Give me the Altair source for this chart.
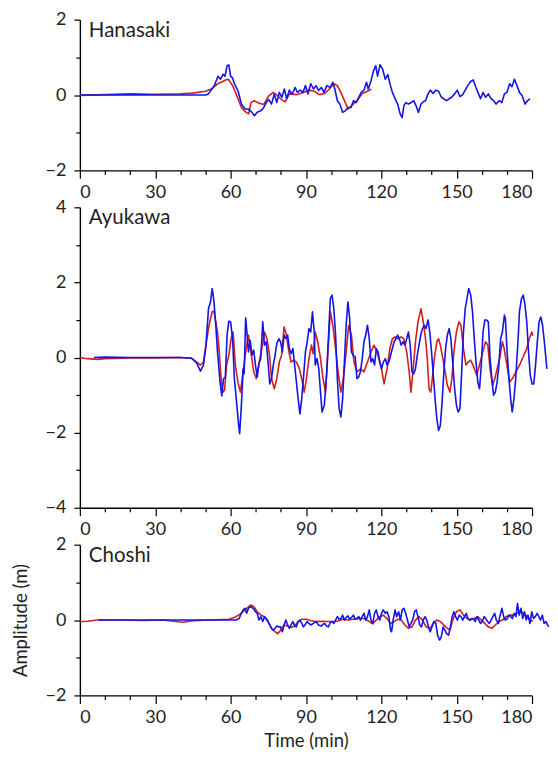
import altair as alt
import pandas as pd

# ---- data (time in minutes, amplitude in metres) ----
hanasaki_blue = [(0,0),(10,0),(20,0.01),(30,0),(40,0),(50,0),(51,0.02),(52.3,0.13),(53.5,0.25),(55,0.5),(56,0.42),(57,0.55),(57.8,0.5),(58.6,0.78),(59.3,0.8),(60,0.5),(60.8,0.45),(61.5,0.3),(63,0.1),(64.3,-0.24),(65.7,-0.37),(67,-0.37),(68.5,-0.46),(69.5,-0.55),(70.6,-0.46),(72,-0.42),(73.2,-0.33),(74.2,-0.2),(75.2,-0.12),(76.3,-0.24),(77.4,0.03),(78.4,-0.2),(79.4,0.07),(80.4,-0.06),(81.4,0.16),(82.3,-0.1),(83.4,0.13),(84.5,0.02),(85.7,0.2),(86.6,0.07),(87.7,0.13),(88.8,0.07),(89.8,0.25),(90.8,0.03),(91.9,0.3),(93,0.16),(94,0.25),(95,0.12),(96.1,0.2),(97.2,0.07),(98.3,0.25),(99.7,0.2),(100.7,0.34),(101.5,0.16),(102.5,-0.15),(103.5,-0.24),(104.6,-0.46),(105.7,-0.42),(106.8,-0.33),(107.9,-0.33),(108.9,-0.15),(110,-0.2),(111,-0.06),(112,0.07),(113.1,0.13),(114.1,0.34),(114.8,0.16),(115.9,0.38),(116.9,0.64),(117.8,0.78),(118.5,0.5),(119.5,0.8),(120.5,0.69),(121.6,0.42),(122.6,0.54),(123.4,0.31),(124.4,0.07),(125.5,-0.1),(126.5,-0.24),(127.5,-0.5),(128.3,-0.6),(129,-0.28),(129.8,-0.2),(130.8,-0.24),(131.9,-0.2),(132.9,-0.15),(133.8,-0.28),(134.8,-0.46),(135.8,-0.24),(136.7,-0.18),(137.6,-0.15),(138.6,0.03),(139.5,0.13),(140.6,0.04),(141.7,0.13),(142.8,0.1),(143.9,-0.06),(144.9,-0.1),(146,-0.15),(147,-0.1),(148,-0.06),(149.2,0.03),(150.2,0.13),(151.3,-0.04),(152.4,0.01),(153.4,0.13),(154.4,0.25),(155.6,0.36),(156.6,0.4),(157.7,0.2),(158.7,0.03),(159.5,-0.1),(160.5,0.07),(161.5,-0.06),(162.6,0.03),(163.6,-0.09),(164.7,-0.15),(165.7,-0.24),(166.9,-0.15),(168,-0.2),(169,0.03),(170,0.07),(171.1,0.3),(172,0.22),(173,0.42),(174,0.25),(175,0.07),(176.1,-0.02),(177.2,-0.24),(178.2,-0.15),(179.2,-0.1)]
hanasaki_red = [(0,-0.01),(10,0.01),(20,0.03),(30,0.02),(40,0.03),(45,0.05),(50,0.1),(52.3,0.16),(55,0.3),(58,0.4),(59.1,0.42),(60.8,0.25),(62.5,-0.02),(64.3,-0.33),(66.2,-0.46),(67.2,-0.5),(68.1,-0.2),(69.3,-0.15),(71.4,-0.22),(73.2,-0.25),(75.2,-0.02),(77,0.07),(78.4,0),(79.9,-0.1),(81.7,-0.18),(83.4,0.03),(86.2,0.01),(89,0.07),(91.2,0.13),(93.3,0.1),(95.4,0.01),(97.5,0.04),(99.3,0.16),(101.1,0.3),(102.5,0.25),(103.9,0.07),(105.3,-0.15),(106.8,-0.37),(108.2,-0.28),(110.3,-0.15),(112.4,0.04),(114.5,0.1),(116,0.16)]

ayukawa_blue = [(5.6,0),(10,0.01),(20,0),(30,0),(40,0),(44.5,-0.02),(46.6,-0.16),(48,-0.36),(49.2,-0.2),(50.2,0.33),(51.2,1.3),(52,1.48),(52.7,1.84),(53.4,1.48),(54.1,0.86),(54.8,0.15),(55.8,-0.65),(56.5,-1.02),(57.2,-0.56),(57.9,-0.52),(58.6,0.6),(59.3,0.97),(60,0.95),(60.8,0.5),(61.5,-0.56),(62.5,-1.27),(63.2,-1.8),(63.6,-2.03),(64.3,-1.27),(65,-0.3),(65.4,-0.43),(66,1.06),(66.7,0.5),(67.1,0.15),(67.8,0.46),(68.5,0.06),(69.2,0.2),(69.9,-0.2),(70.6,-0.52),(71.3,-0.16),(72,-0.03),(72.8,0.95),(73.5,0.33),(74.2,0.42),(74.9,-0.12),(75.6,-0.7),(76.3,-0.56),(77,-0.2),(77.7,0.06),(78.4,0.37),(79.2,0.5),(79.9,0.42),(80.6,0.15),(81.3,0.6),(82,0.5),(82.7,0.6),(83.4,0.24),(84.1,0.1),(84.8,0.24),(85.5,-0.2),(86.2,-0.65),(86.9,-1.1),(87.6,-1.5),(88.3,-1.1),(89,-0.56),(89.8,0.15),(90.5,0.42),(91.2,0.77),(91.9,0.68),(92.6,1.22),(93.3,0.68),(93.7,-0.2),(94.4,-0.03),(95.1,-0.3),(95.8,-0.92),(96.4,-1.45),(97.3,-1.27),(98.2,-0.47),(99,0.6),(99.7,1.57),(100.4,1.66),(101.1,1.3),(101.8,0.6),(102.5,-0.56),(103.2,-1.36),(103.9,-1.58),(104.6,-1.1),(105.3,-0.12),(106,0.86),(106.7,1.48),(107.4,1.04),(108.1,0.15),(108.8,0.06),(109.6,0.02),(110.3,-0.56),(111,-0.52),(111.7,-0.38),(112.4,-0.03),(113.1,0.42),(113.8,0.6),(114.5,0.86),(115.2,0.5),(115.9,-0.12),(116.6,-0.03),(117.3,-0.2),(118,0.24),(118.7,0.15),(119.4,-0.12),(120.1,-0.3),(120.8,-0.12),(121.6,-0.03),(122.3,-0.2),(123,-0.12),(123.7,0.06),(124.4,0.24),(125.1,0.42),(125.8,0.5),(126.5,0.6),(127.2,0.5),(127.9,0.33),(128.6,0.42),(129.4,0.33),(130.1,0.5),(130.8,0.68),(131.5,0.33),(132.2,-0.38),(132.9,-0.43),(133.6,-0.3),(134.3,0.06),(135,0.33),(135.7,0.6),(136.4,0.77),(137.1,0.86),(137.8,0.77),(138.6,1.0),(139.3,0.68),(140,0.15),(140.7,-0.47),(141.4,-1.1),(142.1,-1.63),(142.8,-1.94),(143.5,-1.81),(144.2,-1.18),(144.9,-0.38),(145.6,0.24),(146.3,0.6),(147,0.77),(147.7,0.5),(148.4,-0.12),(149.2,-0.83),(149.9,-1.27),(150.6,-1.45),(151.3,-1.36),(152,-0.38),(152.7,0.68),(153.4,1.3),(154.1,1.57),(154.8,1.84),(155.6,1.66),(156.3,1.22),(157,0.5),(157.7,-0.12),(158.4,-0.65),(159.1,-0.83),(159.8,-0.2),(160.5,0.68),(161.2,1.0),(161.9,1.0),(162.6,0.95),(163.3,-0.03),(164,-0.56),(164.7,-1.0),(165.4,-0.92),(166.1,-0.65),(166.8,-0.2),(167.5,0.5),(168.2,0.68),(169,1.13),(169.4,1.04),(170,0.24),(170.8,-0.56),(171.5,-1.1),(172.1,-1.45),(172.8,-1.1),(173.5,-0.56),(174.4,0.42),(175,1.22),(175.8,1.57),(176.5,1.66),(177.2,1.4),(177.9,0.95),(178.6,0.15),(179.3,-0.47),(180,-0.7),(180.7,-0.7),(181.4,-0.2),(182.1,0.42),(182.8,0.95),(183.5,1.08),(184.2,0.86),(184.9,0.42),(185.9,-0.3)]
ayukawa_red = [(0,0),(3,-0.03),(7,-0.05),(10,-0.03),(20,-0.01),(30,-0.01),(40,0),(44.5,-0.02),(46.6,-0.12),(48,-0.2),(49.2,-0.12),(50.2,0.33),(51.2,0.77),(52,1.04),(52.7,1.22),(53.4,1.23),(54.1,0.95),(54.8,0.68),(55.5,0.15),(56.2,-0.56),(56.9,-0.92),(57.6,-0.87),(58.4,-0.2),(59.3,0.06),(60.2,0.5),(61,0.68),(61.9,-0.2),(62.9,-0.65),(63.9,-0.92),(65,-0.38),(66,0.15),(67.1,0.6),(68.1,0.15),(69.2,-0.38),(70.2,-0.56),(71.4,-0.12),(72.4,0.24),(73.5,0.68),(74.5,0.5),(75.5,0.06),(76.3,-0.56),(77.4,-0.83),(78.4,-0.56),(79.4,-0.12),(80.3,0.06),(81.3,0.82),(82.2,0.6),(83.2,0.15),(84.1,-0.12),(85.1,-0.07),(86.2,-0.12),(87.4,-0.3),(88.3,-0.56),(89.3,-0.92),(90.2,-0.56),(91.2,-0.03),(92.2,0.33),(92.9,0.1),(93.7,0.68),(94.7,0.42),(95.8,-0.03),(96.8,-0.56),(97.8,-0.92),(98.6,-0.03),(99.7,1.22),(100.7,0.86),(101.8,0.24),(102.8,-0.38),(103.9,-0.92),(104.9,-0.56),(106,0.15),(107,0.86),(108.1,0.6),(109.1,-0.12),(110.3,-0.38),(111.7,-0.3),(113.1,-0.38),(114.5,-0.12),(115.9,0.15),(117.1,0.33),(118,0.2),(119,-0.03),(120.1,-0.3),(121.1,-0.7),(122.3,-0.3),(123.4,0.24),(124.4,0.5),(125.5,0.55),(126.5,0.5),(127.9,0.55),(128.9,0.5),(130.1,0.15),(131.1,-0.38),(131.8,-0.92),(132.6,-0.38),(133.6,0.42),(134.6,0.95),(135.8,1.3),(136.7,0.95),(137.6,0.5),(138.3,-0.03),(139,-0.83),(139.7,-0.92),(140.3,-0.56),(141.1,-0.03),(142.1,0.42),(142.8,0.5),(143.5,0.33),(144.5,-0.03),(145.4,-0.38),(146.3,-0.74),(147.3,-0.92),(148.1,-0.56),(148.9,0.15),(149.9,0.68),(150.9,0.95),(151.7,0.86),(152.7,0.24),(153.7,-0.2),(154.6,-0.12),(155.5,-0.07),(156.5,-0.2),(158,-0.47),(159.4,-0.12),(160.4,0.15),(161.5,0.42),(162.4,0.33),(163.3,-0.3),(164.3,-0.74),(165.2,-0.56),(166.1,-0.3),(167.1,-0.03),(168.2,0.42),(168.9,0.24),(170,-0.2),(171.1,-0.65),(172.2,-0.56),(173.6,-0.38),(175,-0.2),(176.5,0.02),(177.9,0.24),(178.9,0.5),(179.9,0.68),(180.3,0.58)]

choshi_blue = [(7.4,0),(20,0),(30,0),(40,0),(50,0),(62.2,0),(63.4,0.04),(64.3,0.18),(65,0.27),(65.7,0.31),(66.4,0.18),(67.1,0.31),(67.8,0.36),(69,0.31),(69.9,0.22),(70.6,0.18),(71.3,0),(72.1,0.09),(72.8,-0.04),(73.5,0.09),(74.6,0),(75.6,-0.13),(76.3,-0.22),(77,-0.27),(77.7,-0.22),(78.4,-0.16),(79.1,-0.18),(79.9,-0.18),(80.6,-0.31),(81.3,-0.13),(82,0),(82.7,-0.13),(83.4,-0.22),(84.1,-0.13),(84.8,-0.04),(85.5,-0.16),(86.2,-0.18),(86.9,-0.04),(87.6,0),(88.3,-0.09),(89,-0.18),(89.8,-0.11),(90.5,-0.04),(91.2,-0.09),(91.9,-0.13),(92.9,-0.09),(94,-0.04),(95,-0.13),(96.1,-0.16),(96.8,-0.11),(97.5,-0.09),(98.2,-0.16),(98.9,-0.18),(99.7,-0.07),(100.4,-0.04),(101.1,-0.09),(101.8,0),(102.5,0.09),(103.2,0.02),(103.9,0.04),(104.6,0.13),(105.3,0),(106,0.07),(106.7,0.11),(107.4,0.02),(108.1,0.07),(108.9,0.13),(109.6,0.02),(110.3,0.04),(111,0.09),(111.7,0),(112.4,0.09),(113.1,0.18),(113.8,0),(114.5,0.09),(115.2,0.27),(115.9,0),(116.6,-0.09),(117.3,0.18),(118,0.27),(118.7,0.09),(119.4,0),(120.1,0.18),(120.8,0.27),(121.6,0.18),(122.3,0.22),(123,0.09),(123.7,-0.27),(124.1,-0.31),(124.7,0),(125.5,0.27),(126.1,0.09),(126.9,0.22),(127.6,0),(128.3,0.27),(129,0.31),(129.7,0.18),(130.4,0),(131.1,-0.18),(131.8,-0.09),(132.5,0),(133.2,0.22),(133.9,0.27),(134.6,0.09),(135.3,-0.13),(136,-0.18),(136.7,0),(137.4,0.09),(138.1,0),(138.9,-0.22),(139.5,-0.31),(140.2,-0.18),(140.9,-0.04),(141.7,-0.09),(142.4,-0.4),(143.2,-0.53),(143.9,-0.44),(144.6,-0.18),(145.3,-0.27),(146,-0.36),(146.8,-0.4),(147.5,-0.18),(148.2,0.09),(148.9,0.22),(149.6,0.09),(150.3,0),(151,0.13),(151.7,0.09),(152.4,0),(153.1,0.09),(153.8,0.18),(154.5,0.04),(155.2,0),(155.9,0.04),(156.6,0.04),(157.4,-0.04),(158.1,0.09),(158.8,0),(159.5,-0.09),(160.2,-0.04),(160.9,0.09),(161.6,0.04),(162.3,-0.04),(163,-0.09),(163.7,0),(164.4,0.09),(165.1,0.18),(165.8,0),(166.6,-0.09),(167.3,0.13),(168,0.31),(168.7,0.09),(169.4,0),(170.1,0.04),(170.8,0.13),(171.5,0.09),(172.2,0.04),(172.9,0.18),(173.6,0.09),(174.2,0.44),(174.9,0.13),(175.6,0.31),(176.3,0.04),(177,0.22),(177.7,0),(178.4,0.13),(179.2,-0.09),(179.9,0.22),(180.6,0.04),(181.3,0.09),(182,0.18),(182.7,0.09),(183.4,0),(184.1,0.13),(184.8,-0.09),(185.5,-0.04),(186.6,-0.18)]
choshi_red = [(0,-0.04),(3,-0.03),(7,0),(15,0),(25,-0.01),(33,0),(38,-0.04),(41,-0.06),(45,-0.02),(52,0),(59.4,0.02),(62.2,0.09),(64.3,0.18),(66.4,0.31),(68.1,0.4),(69.2,0.36),(70.6,0.22),(72.1,0.13),(73.5,0.09),(74.9,-0.04),(76.3,-0.22),(77.7,-0.31),(78.8,-0.36),(79.9,-0.27),(81.3,-0.13),(82.7,-0.16),(84.1,-0.2),(85.5,-0.16),(86.9,-0.04),(88.3,0.02),(90.2,0.02),(92,-0.02),(94,-0.04),(96.1,-0.03),(98.2,-0.04),(100.4,-0.04),(102.5,-0.03),(104.6,0.02),(106.7,0),(108.9,0.02),(111,0.04),(113.1,0.04),(115.2,-0.04),(116.6,-0.1),(118,0),(119.4,0.09),(120.8,0.13),(122.3,0.04),(123.7,-0.09),(125.1,-0.04),(126.5,0.02),(127.9,0),(129.4,-0.13),(130.8,-0.22),(132.2,-0.18),(133.6,0),(135,0.09),(136.4,0),(137.8,-0.18),(139.3,-0.22),(140.7,-0.09),(142.1,0),(143.5,-0.04),(144.9,-0.13),(146.3,-0.22),(147.3,-0.27),(148.4,0),(149.9,0.22),(151.3,0.27),(152.7,0.13),(154.1,0.04),(155.5,0),(157,0.04),(158.4,0.09),(159.8,0),(161.2,-0.09),(162.6,-0.18),(164,-0.22),(165.4,-0.13),(166.8,-0.04),(168.2,0),(169.7,0.09),(171.1,0.13),(172.5,0.13),(173.9,0.18),(175.4,0.22),(176.8,0.18),(178.1,0.09),(179.6,0),(180.3,-0.04)]

stations = ["Hanasaki", "Ayukawa", "Choshi"]
y_limits = [2, 4, 2]
x_ticks = list(range(0, 181, 10))

RED = "#d01f1f"
BLUE = "#1414e8"
FONT = "Lato"
TXT = "#231f20"


def line_layer(pairs, color):
    df = pd.DataFrame(pairs, columns=["t", "v"])
    return alt.Chart(df).mark_line(color=color, strokeWidth=1.6, strokeJoin="round")


def panel(name, blue, red, ylim, height, bottom):
    xaxis = alt.Axis(
        values=x_ticks,
        labelExpr="datum.value % 30 === 0 ? datum.label : ''",
        tickSize={"condition": {"test": "datum.value % 30 === 0", "value": 8}, "value": 4},
        title="Time (min)" if bottom else None,
        labelPadding=5,
        titlePadding=5,
        grid=False,
    )
    yaxis = alt.Axis(
        values=list(range(-ylim, ylim + 1)),
        labelExpr="datum.value % 2 === 0 ? datum.label : ''",
        tickSize={"condition": {"test": "datum.value % 2 === 0", "value": 6}, "value": 4},
        title="Amplitude (m)" if bottom else None,
        labelPadding=8,
        titlePadding=15,
        grid=False,
    )
    x = alt.X("t:Q", scale=alt.Scale(domain=[0, 180], nice=False, zero=False), axis=xaxis)
    y = alt.Y("v:Q", scale=alt.Scale(domain=[-ylim, ylim], nice=False), axis=yaxis)
    r = line_layer(red, RED).encode(x=x, y=y)
    b = line_layer(blue, BLUE).encode(x=x, y=y)
    label = alt.Chart(pd.DataFrame({"name": [name]})).mark_text(
        align="left", baseline="top", fontSize=20.5, font=FONT, color=TXT
    ).encode(x=alt.value(9), y=alt.value(1), text="name:N")
    return alt.layer(r, b, label).properties(width=453, height=height)


p1 = panel(stations[0], hanasaki_blue, hanasaki_red, y_limits[0], 151, False)
p2 = panel(stations[1], ayukawa_blue, ayukawa_red, y_limits[1], 301, False)
p3 = panel(stations[2], choshi_blue, choshi_red, y_limits[2], 151, True)

chart = alt.vconcat(p1, p2, p3, spacing=37, bounds="flush").properties(
    padding={"left": 3, "top": 2, "right": 0, "bottom": 0}
).configure_view(stroke=None).configure_axis(
    domainColor="black", domainWidth=1.4, tickColor="black", tickWidth=1.2,
    labelFont=FONT, labelFontSize=18, labelColor=TXT,
    titleFont=FONT, titleFontSize=18.5, titleColor=TXT, titleFontWeight="normal",
).configure_axisLeft(labelAlign="right")

chart.save("out.html", embed_options={"renderer": "svg", "actions": False})
